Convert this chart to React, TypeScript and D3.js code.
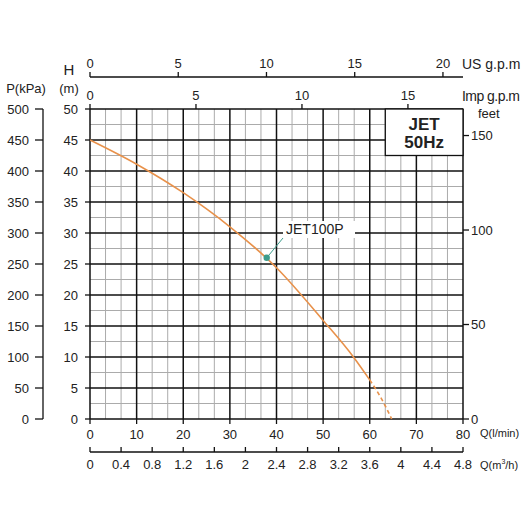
import * as d3 from "d3";

// pump curve JET100P
const flowLpm = [0, 10, 20, 30, 40, 50, 56.5, 60];
const headM = [45, 41.1, 36.5, 31, 24.4, 15.9, 10, 6.3];
const dashFlow = [60, 62.5, 64.7];
const dashHead = [6.3, 3.3, 0];
const markerQ = 37.9;
const markerH = 26;

const lpmTicks = [0, 10, 20, 30, 40, 50, 60, 70, 80];
const m3hTicks = [0, 0.4, 0.8, 1.2, 1.6, 2, 2.4, 2.8, 3.2, 3.6, 4, 4.4, 4.8];
const usGpmTicks = [0, 5, 10, 15, 20];
const impGpmTicks = [0, 5, 10, 15];
const headTicks = [0, 5, 10, 15, 20, 25, 30, 35, 40, 45, 50];
const kpaTicks = [0, 50, 100, 150, 200, 250, 300, 350, 400, 450, 500];
const feetTicks = [0, 50, 100, 150];

const W = 530;
const H = 530;
const left = 90;
const right = 463;
const top = 109;
const bottom = 419;
const font = "'Liberation Sans', Arial, sans-serif";

export default function App() {
  const x = d3.scaleLinear().domain([0, 80]).range([left, right]);
  const xm3 = d3.scaleLinear().domain([0, 4.8]).range([left, right]);
  const xUs = d3.scaleLinear().domain([0, 80 / 3.785]).range([left, right]);
  const xImp = d3.scaleLinear().domain([0, 80 / 4.546]).range([left, right]);
  const y = d3.scaleLinear().domain([0, 50]).range([bottom, top]);
  const yKpa = d3.scaleLinear().domain([0, 500]).range([bottom, top]);
  const yFt = d3.scaleLinear().domain([0, 50 * 3.2808]).range([bottom, top]);

  const line = d3
    .line<[number, number]>()
    .x((d) => x(d[0]))
    .y((d) => y(d[1]))
    .curve(d3.curveMonotoneX);
  const solid = flowLpm.map((q, i) => [q, headM[i]] as [number, number]);
  const dashed = dashFlow.map((q, i) => [q, dashHead[i]] as [number, number]);

  const minorX = d3.range(0, 25).map((i) => i * 0.2).filter((_, i) => i % 3 !== 0);
  const minorY = d3.range(0, 10).map((i) => i * 5 + 2.5);

  const ts = { fontFamily: font, fontSize: 13, fill: "#222" };

  return (
    <svg width={W} height={H} style={{ position: "absolute", left: 0, top: 0, background: "#fff" }}>
      {/* grid */}
      {minorX.map((v) => (
        <line key={"mx" + v} x1={xm3(v)} x2={xm3(v)} y1={top} y2={bottom} stroke="#ababab" strokeWidth={1} />
      ))}
      {minorY.map((v) => (
        <line key={"my" + v} x1={left} x2={right} y1={y(v)} y2={y(v)} stroke="#ababab" strokeWidth={1} />
      ))}
      {lpmTicks.map((v) => (
        <line key={"Mx" + v} x1={x(v)} x2={x(v)} y1={top} y2={bottom} stroke="#111" strokeWidth={1.5} />
      ))}
      {headTicks.map((v) => (
        <line key={"My" + v} x1={left} x2={right} y1={y(v)} y2={y(v)} stroke="#111" strokeWidth={1.5} />
      ))}

      {/* title box */}
      <rect x={xm3(3.8)} y={y(50)} width={xm3(4.8) - xm3(3.8)} height={y(42.5) - y(50)} fill="#fff" stroke="#111" strokeWidth={1.3} />
      <text x={(xm3(3.8) + xm3(4.8)) / 2} y={130} textAnchor="middle" fontFamily={font} fontSize={17} fontWeight="bold" fill="#222">JET</text>
      <text x={(xm3(3.8) + xm3(4.8)) / 2} y={148} textAnchor="middle" fontFamily={font} fontSize={17} fontWeight="bold" fill="#222">50Hz</text>

      {/* curve */}
      <path d={line(solid) || ""} fill="none" stroke="#e8914a" strokeWidth={1.6} />
      <path d={line(dashed) || ""} fill="none" stroke="#e8914a" strokeWidth={1.6} strokeDasharray="4,3" />

      {/* series label */}
      <rect x={283} y={221} width={72} height={17} fill="#fff" />
      <text x={286} y={234} fontFamily={font} fontSize={14} fill="#222">JET100P</text>
      <line x1={x(markerQ)} y1={y(markerH)} x2={283} y2={238} stroke="#3c9c8c" strokeWidth={1} />
      <circle cx={x(markerQ)} cy={y(markerH)} r={3.2} fill="#3c9c8c" />

      {/* H axis (left of plot) */}
      {headTicks.map((v) => (
        <g key={"h" + v}>
          <line x1={left - 5} x2={left} y1={y(v)} y2={y(v)} stroke="#111" strokeWidth={1.3} />
          <text x={78} y={y(v)} dy="0.35em" textAnchor="end" {...ts}>{v}</text>
        </g>
      ))}
      <text x={69} y={75} textAnchor="middle" fontFamily={font} fontSize={15} fill="#222">H</text>
      <text x={69} y={93} textAnchor="middle" {...ts}>(m)</text>

      {/* P axis */}
      <line x1={43} x2={43} y1={top} y2={bottom} stroke="#111" strokeWidth={1.3} />
      {kpaTicks.map((v) => (
        <g key={"p" + v}>
          <line x1={35} x2={43} y1={yKpa(v)} y2={yKpa(v)} stroke="#111" strokeWidth={1.3} />
          <text x={29} y={yKpa(v)} dy="0.35em" textAnchor="end" {...ts}>{v}</text>
        </g>
      ))}
      <text x={26} y={93} textAnchor="middle" {...ts}>P(kPa)</text>

      {/* feet axis */}
      {feetTicks.map((v) => (
        <g key={"f" + v}>
          <line x1={right} x2={right + 6} y1={yFt(v)} y2={yFt(v)} stroke="#111" strokeWidth={1.3} />
          <text x={right + 8} y={yFt(v)} dy="0.35em" {...ts}>{v}</text>
        </g>
      ))}
      <text x={478} y={118} {...ts}>feet</text>

      {/* US gpm axis */}
      <line x1={left} x2={right} y1={77} y2={77} stroke="#111" strokeWidth={1.3} />
      {usGpmTicks.map((v) => (
        <g key={"us" + v}>
          <line x1={xUs(v)} x2={xUs(v)} y1={72} y2={77} stroke="#111" strokeWidth={1.3} />
          <text x={xUs(v)} y={68} textAnchor="middle" {...ts}>{v}</text>
        </g>
      ))}
      <text x={462} y={69} fontFamily={font} fontSize={14} fill="#222">US g.p.m</text>

      {/* Imp gpm axis */}
      {impGpmTicks.map((v) => (
        <g key={"imp" + v}>
          <line x1={xImp(v)} x2={xImp(v)} y1={top - 5} y2={top} stroke="#111" strokeWidth={1.3} />
          <text x={xImp(v)} y={100} textAnchor="middle" {...ts}>{v}</text>
        </g>
      ))}
      <text x={462} y={101} fontFamily={font} fontSize={14} fill="#222" textLength={58}>Imp g.p.m</text>

      {/* l/min axis */}
      {lpmTicks.map((v) => (
        <g key={"q" + v}>
          <line x1={x(v)} x2={x(v)} y1={bottom} y2={bottom + 5} stroke="#111" strokeWidth={1.3} />
          <text x={x(v)} y={439} textAnchor="middle" {...ts}>{v}</text>
        </g>
      ))}
      <text x={480} y={437} fontFamily={font} fontSize={11} fill="#222">Q(l/min)</text>

      {/* m3/h axis */}
      <line x1={left} x2={right} y1={452} y2={452} stroke="#111" strokeWidth={1.3} />
      {m3hTicks.map((v) => (
        <g key={"m" + v}>
          <line x1={xm3(v)} x2={xm3(v)} y1={447} y2={452} stroke="#111" strokeWidth={1.3} />
          <text x={xm3(v)} y={469} textAnchor="middle" {...ts}>{v}</text>
        </g>
      ))}
      <text x={480} y={469} fontFamily={font} fontSize={11} fill="#222">
        Q(m<tspan fontSize={7} dy={-5}>3</tspan><tspan dy={5}>/h)</tspan>
      </text>
    </svg>
  );
}
